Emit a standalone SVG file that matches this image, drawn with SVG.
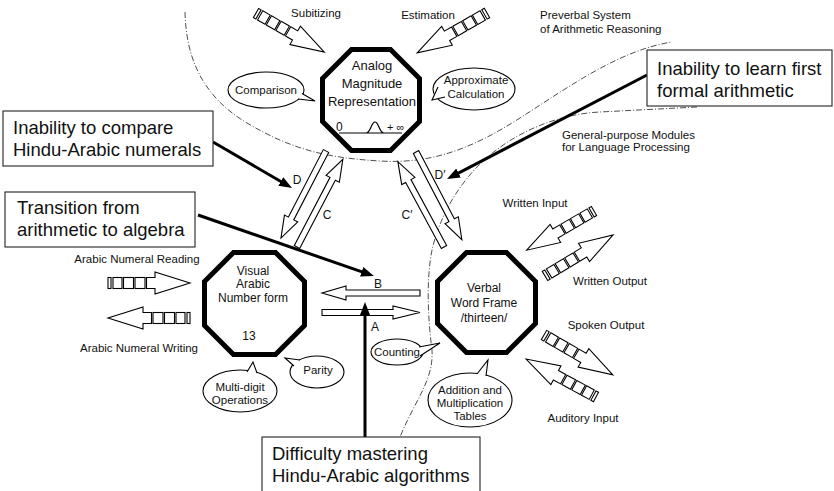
<svg xmlns="http://www.w3.org/2000/svg" width="834" height="491" viewBox="0 0 834 491">
<style>
text{font-family:"Liberation Sans",Arial,sans-serif;fill:#111}
.s{font-size:11.5px}
.m{font-size:12px;text-anchor:middle}
.big{font-size:18.5px}
.oct{fill:#fff;stroke:#000;stroke-width:5;stroke-linejoin:miter}
.bub{fill:#fff;stroke:#000;stroke-width:1.1}
.box{fill:#fff;stroke:#222;stroke-width:1.1}
.ha{fill:#fff;stroke:#000;stroke-width:1.1;stroke-linejoin:miter}
.dash{fill:none;stroke:#222;stroke-width:0.8;stroke-dasharray:6 2 1 2}
.thick{fill:none;stroke:#000;stroke-width:3;marker-end:url(#ah)}
</style>
<defs>
<marker id="ah" markerUnits="userSpaceOnUse" markerWidth="14" markerHeight="12" refX="5" refY="5" orient="auto"><path d="M0,0 L13,5 L0,10 Z" fill="#000"/></marker>
<g id="sa" class="ha">
<rect x="0" y="-5.5" width="3" height="11"/>
<rect x="5" y="-5.5" width="9" height="11"/>
<rect x="15.5" y="-5.5" width="10" height="11"/>
<rect x="27" y="-5.5" width="10" height="11"/>
<path d="M38.5,-5.5 H47 V-11 L82,0 L47,11 V5.5 H38.5 Z"/>
</g>
</defs>
<rect width="834" height="491" fill="#fff"/>

<g id="regions">
<path class="dash" d="M185,12 C186,55 200,95 247,123 S330,158 380,161 S470,150 520,118 S620,50 672,42"/>
<path class="dash" d="M697,107 L600,112 C560,114 520,130 490,155 C460,180 440,215 432,250 C426,280 428,320 432,350 C434,380 415,400 400,437"/>
<text class="s" x="540" y="19">Preverbal System</text>
<text class="s" x="540" y="33">of Arithmetic Reasoning</text>
<text class="s" x="562" y="139">General-purpose Modules</text>
<text class="s" x="562" y="151">for Language Processing</text>
</g>

<g id="analog">
<polygon class="oct" points="351.5,49.5 390.5,49.5 419.5,78.5 419.5,121.5 390.5,150.5 351.5,150.5 322.5,121.5 322.5,78.5"/>
<text class="m" style="font-size:13px" x="372" y="70">Analog</text>
<text class="m" style="font-size:13px" x="372" y="88">Magnitude</text>
<text class="m" style="font-size:13px" x="372" y="106">Representation</text>
<path d="M339,133 H402 M366,133 C371,133 371,122 375,122 C379,122 379,133 384,133" fill="none" stroke="#000" stroke-width="1.2"/>
<text class="s" x="336" y="131" style="font-size:12px">0</text>
<text class="s" x="387" y="131" style="font-size:11px">+ ∞</text>
</g>

<g id="visual">
<polygon class="oct" points="233.5,252.5 275.5,252.5 304.5,281.5 304.5,325.5 275.5,354.5 233.5,354.5 204.5,325.5 204.5,281.5"/>
<text class="m" x="253" y="275">Visual</text>
<text class="m" x="253" y="288">Arabic</text>
<text class="m" x="253" y="302">Number form</text>
<text class="m" x="249" y="340">13</text>
</g>

<g id="verbal">
<polygon class="oct" points="466.5,252.5 506.5,252.5 535.5,281.5 535.5,323.5 506.5,352.5 466.5,352.5 437.5,323.5 437.5,281.5"/>
<text class="m" x="484" y="292">Verbal</text>
<text class="m" x="484" y="307">Word Frame</text>
<text class="m" x="484" y="322">/thirteen/</text>
</g>

<g id="comparison">
<ellipse class="bub" cx="266" cy="90" rx="38" ry="18"/>
<path class="bub" d="M302,93.5 L315,101 L298,99"/>
<text class="m" style="font-size:11.5px" x="266" y="94">Comparison</text>
</g>
<g id="approximate">
<ellipse class="bub" cx="474" cy="89" rx="41" ry="21"/>
<path class="bub" d="M438,87 L432,100 L445,97"/>
<text class="m" style="font-size:11.5px" x="476" y="84">Approximate</text>
<text class="m" style="font-size:11.5px" x="476" y="98">Calculation</text>
</g>
<g id="multidigit">
<ellipse class="bub" cx="240" cy="391" rx="37" ry="21"/>
<path class="bub" d="M247,372 L253,362 L257,373"/>
<text class="m" style="font-size:11.5px" x="240" y="391">Multi-digit</text>
<text class="m" style="font-size:11.5px" x="240" y="404">Operations</text>
</g>
<g id="parity">
<ellipse class="bub" cx="317" cy="372" rx="27" ry="16"/>
<path class="bub" d="M294,366 L285,358 L300,360"/>
<text class="m" style="font-size:11.5px" x="318" y="374">Parity</text>
</g>
<g id="counting">
<ellipse class="bub" cx="397" cy="352" rx="26" ry="13"/>
<path class="bub" d="M419,347 L440,343 L420,356"/>
<text class="m" style="font-size:11.5px" x="397" y="356">Counting</text>
</g>
<g id="tables">
<ellipse class="bub" cx="470" cy="400" rx="42" ry="27"/>
<path class="bub" d="M477,374 L488,360 L486,376"/>
<text class="m" style="font-size:11.5px" x="470" y="394">Addition and</text>
<text class="m" style="font-size:11.5px" x="470" y="407">Multiplication</text>
<text class="m" style="font-size:11.5px" x="470" y="420">Tables</text>
</g>

<g id="io">
<use href="#sa" transform="translate(256,13) rotate(29.8) scale(0.96)"/>
<text class="m" style="font-size:11.5px" x="316" y="17">Subitizing</text>
<use href="#sa" transform="translate(487,13) rotate(150.3) scale(0.98)"/>
<text class="m" style="font-size:11.5px" x="428" y="19">Estimation</text>
<use href="#sa" transform="translate(108,283)"/>
<text class="m" style="font-size:11.5px" x="137" y="263">Arabic Numeral Reading</text>
<use href="#sa" transform="translate(190,318) rotate(180)"/>
<text class="m" style="font-size:11.5px" x="139" y="352">Arabic Numeral Writing</text>
<use href="#sa" transform="translate(594,211) rotate(149.8) scale(0.95)"/>
<text class="m" style="font-size:11.5px" x="535" y="207">Written Input</text>
<use href="#sa" transform="translate(545,276) rotate(-31.1) scale(0.97)"/>
<text class="m" style="font-size:11.5px" x="610" y="285">Written Output</text>
<use href="#sa" transform="translate(544,335) rotate(30.1) scale(0.97)"/>
<text class="m" style="font-size:11.5px" x="606" y="329">Spoken Output</text>
<use href="#sa" transform="translate(596,397) rotate(208.5) scale(0.97)"/>
<text class="m" style="font-size:11.5px" x="583" y="422">Auditory Input</text>
</g>

<g id="connectors">
<polygon class="ha" transform="translate(326,151) rotate(117.35)" points="0,-3 76,-3 76,-7.5 98,0 76,7.5 76,3 0,3"/>
<polygon class="ha" transform="translate(297,247) rotate(-62.4)" points="0,-3 77,-3 77,-7.5 99,0 77,7.5 77,3 0,3"/>
<polygon class="ha" transform="translate(444,247) rotate(-118.4)" points="0,-3 75,-3 75,-7.5 97,0 75,7.5 75,3 0,3"/>
<polygon class="ha" transform="translate(416,152) rotate(62.4)" points="0,-3 77,-3 77,-7.5 99,0 77,7.5 77,3 0,3"/>
<text class="m" x="297" y="184">D</text>
<text class="m" x="327" y="219">C</text>
<text class="m" x="407" y="219">C′</text>
<text class="m" x="440" y="179">D′</text>
<polygon class="ha" points="420,290 346,290 346,286 322,293 346,300 346,296 420,296"/>
<polygon class="ha" points="322,309.5 393,309.5 393,306 420,312.5 393,319 393,315.5 322,315.5"/>
<text class="m" x="378" y="288">B</text>
<text class="m" x="375" y="331">A</text>
<line class="thick" x1="213" y1="142" x2="285.1" y2="184"/>
<line class="thick" x1="647" y1="75" x2="454.1" y2="175.3"/>
<line class="thick" x1="198" y1="215" x2="366.4" y2="273.4"/>
<line class="thick" x1="365" y1="437" x2="365" y2="310"/>
</g>

<g id="box-compare">
<rect class="box" x="3" y="111" width="210" height="55"/>
<text class="big" x="13" y="134">Inability to compare</text>
<text class="big" x="13" y="156">Hindu-Arabic numerals</text>
</g>
<g id="box-transition">
<rect class="box" x="5" y="192" width="190" height="55"/>
<text class="big" x="17" y="214">Transition from</text>
<text class="big" x="17" y="236">arithmetic to algebra</text>
</g>
<g id="box-learn">
<rect class="box" x="647" y="50" width="185" height="56"/>
<text class="big" x="657" y="75">Inability to learn first</text>
<text class="big" x="657" y="97">formal arithmetic</text>
</g>
<g id="box-difficulty">
<rect class="box" x="262" y="437" width="218" height="70"/>
<text class="big" x="272" y="460">Difficulty mastering</text>
<text class="big" x="272" y="482">Hindu-Arabic algorithms</text>
</g>
</svg>
